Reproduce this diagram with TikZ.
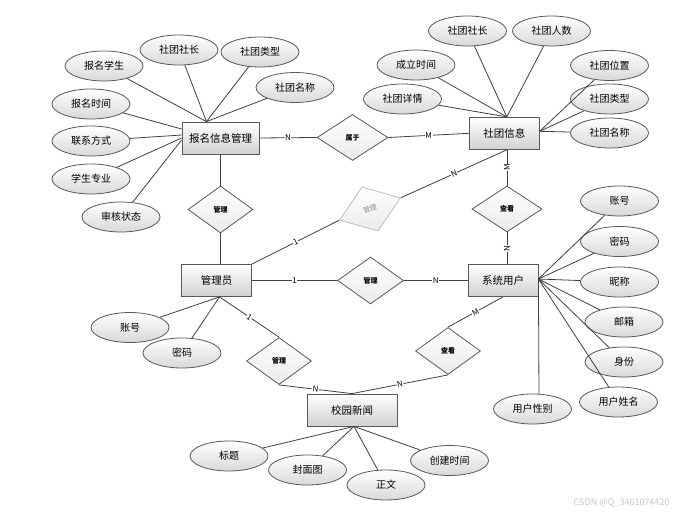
\documentclass[tikz,border=0pt]{standalone}
\usepackage{fontspec}
\setmainfont{Noto Sans CJK SC}
\usetikzlibrary{shapes.geometric,calc}
\begin{document}
\begin{tikzpicture}[x=1pt,y=-1pt,
 conn/.style={draw=black!75, line width=0.8pt},
 ent/.style={rectangle, draw=black!65, line width=0.8pt, top color=white, bottom color=black!18, minimum width=70pt, minimum height=32pt, inner sep=0pt, font=\fontsize{10.5}{12}\selectfont},
 attr/.style={ellipse, draw=black!65, line width=0.8pt, top color=white, bottom color=black!15, minimum width=78pt, minimum height=30pt, inner sep=0pt, font=\fontsize{10}{12}\selectfont},
 rel/.style={diamond, draw=black!65, line width=0.8pt, top color=white, bottom color=black!8, minimum width=65pt, minimum height=47pt, inner sep=0pt, font=\fontsize{7}{8}\selectfont\bfseries},
 ghost/.style={rel, draw=black!25, text=black!45, font=\fontsize{7}{8}\selectfont},
 lab/.style={fill=white, inner sep=0.6pt, font=\fontsize{8}{9}\selectfont}
]
\useasboundingbox[fill=white] (0,0) rectangle (693,516);

% entities
\node[ent, minimum width=77pt] (bm) at (220.5,138) {报名信息管理};
\node[ent] (sx) at (504.3,133.3) {社团信息};
\node[ent] (gly) at (216.5,280.5) {管理员};
\node[ent] (su) at (503,280.5) {系统用户};
\node[ent, minimum width=90pt] (xw) at (352,410) {校园新闻};

% relationships
\node[rel, minimum width=71pt, minimum height=46pt] (sy) at (352.5,137.5) {属于};
\node[rel] (gl1) at (220.5,209.5) {管理};
\node[ghost, rotate=20] (gl2) at (370,209) {管理};
\node[rel, minimum width=70pt, minimum height=46pt] (ck1) at (507,209) {查看};
\node[rel, minimum width=66pt] (gl3) at (370.5,280.5) {管理};
\node[rel] (gl4) at (279,361) {管理};
\node[rel] (ck2) at (448,351) {查看};

% attributes of 报名信息管理
\node[attr] (a1) at (179,50) {社团社长};
\node[attr] (a2) at (260,52) {社团类型};
\node[attr] (a3) at (104,66) {报名学生};
\node[attr] (a4) at (295,87.5) {社团名称};
\node[attr] (a5) at (91,104) {报名时间};
\node[attr] (a6) at (91,141) {联系方式};
\node[attr] (a7) at (91,179) {学生专业};
\node[attr] (a8) at (121,217) {审核状态};

% attributes of 社团信息
\node[attr] (b1) at (467.5,31) {社团社长};
\node[attr] (b2) at (551.5,31) {社团人数};
\node[attr] (b3) at (416,65) {成立时间};
\node[attr] (b4) at (402.5,99) {社团详情};
\node[attr] (b5) at (609.5,65.5) {社团位置};
\node[attr] (b6) at (609.5,99) {社团类型};
\node[attr] (b7) at (609.5,133) {社团名称};

% attributes of 系统用户
\node[attr] (c1) at (619.5,201) {账号};
\node[attr] (c2) at (619.5,241.5) {密码};
\node[attr] (c3) at (619.5,282) {昵称};
\node[attr] (c4) at (624,322) {邮箱};
\node[attr] (c5) at (624,362) {身份};
\node[attr] (c6) at (618.5,402) {用户姓名};
\node[attr] (c7) at (532.5,409) {用户性别};

% attributes of 管理员
\node[attr] (d1) at (130,327.5) {账号};
\node[attr] (d2) at (182,353) {密码};

% attributes of 校园新闻
\node[attr] (e1) at (229,456) {标题};
\node[attr] (e2) at (307.5,470) {封面图};
\node[attr] (e3) at (386,485) {正文};
\node[attr] (e4) at (449.5,460.5) {创建时间};

% attribute connectors
\foreach \n in {a1,a2,a3,a4} \draw[conn] (\n) -- ([xshift=-14pt]bm.north);
\draw[conn] (a5) -- ([yshift=9pt]bm.west);
\draw[conn] (a6) -- ([yshift=3pt]bm.west);
\draw[conn] (a7) -- (bm.west);
\draw[conn] (a8) -- ([yshift=-2pt]bm.west);
\foreach \n in {b1,b2,b3,b4} \draw[conn] (\n) -- ([xshift=2.5pt]sx.north);
\foreach \n in {b5,b6,b7} \draw[conn] (\n) -- ([yshift=2pt]sx.east);
\foreach \n in {c1,c2,c3,c4,c5,c6} \draw[conn] (\n) -- ([yshift=1.5pt]su.east);
\draw[conn] ([yshift=1.5pt]su.east) -- ($(c7.center)+(6.5,-14.8)$);
\foreach \n in {d1,d2} \draw[conn] (\n) -- ([xshift=3pt]gly.south);
\foreach \n in {e1,e2,e3,e4} \draw[conn] (\n) -- ([xshift=2pt]xw.south);

% relationship connectors
\draw[conn] (bm.east) -- node[lab]{N} (sy.west);
\draw[conn] (sy.east) -- node[lab]{M} (sx.west);
\draw[conn] (bm.south -| gl1.north) -- (gl1.north);
\draw[conn] (gl1.south) -- (gl1.south |- gly.north);
\draw[conn] (gly.north east) -- node[lab, sloped]{1} (gl2.west);
\draw[conn] (gl2.east) -- node[lab, sloped]{N} (ck1.north |- sx.south);
\draw[conn] (ck1.north |- sx.south) -- node[lab, rotate=90]{M} (ck1.north);
\draw[conn] (ck1.south) -- node[lab, rotate=90]{N} (ck1.south |- su.north);
\draw[conn] (gly.east) -- node[lab]{1} (gl3.west);
\draw[conn] (gl3.east) -- node[lab]{N} (su.west);
\draw[conn] (su.south) -- node[lab, sloped]{M} (ck2.north);
\draw[conn] (ck2.south) -- node[lab, sloped]{N} (xw.north);
\draw[conn] ([xshift=3pt]gly.south) -- node[lab, sloped]{1} (gl4.north);
\draw[conn] (gl4.south) -- node[lab, sloped]{N} (xw.north);

% watermark
\node[text=black!22, font=\fontsize{9}{10}\selectfont, anchor=east] (wm) at (673,503) {CSDN @Q\_3461074420};
\end{tikzpicture}
\end{document}
